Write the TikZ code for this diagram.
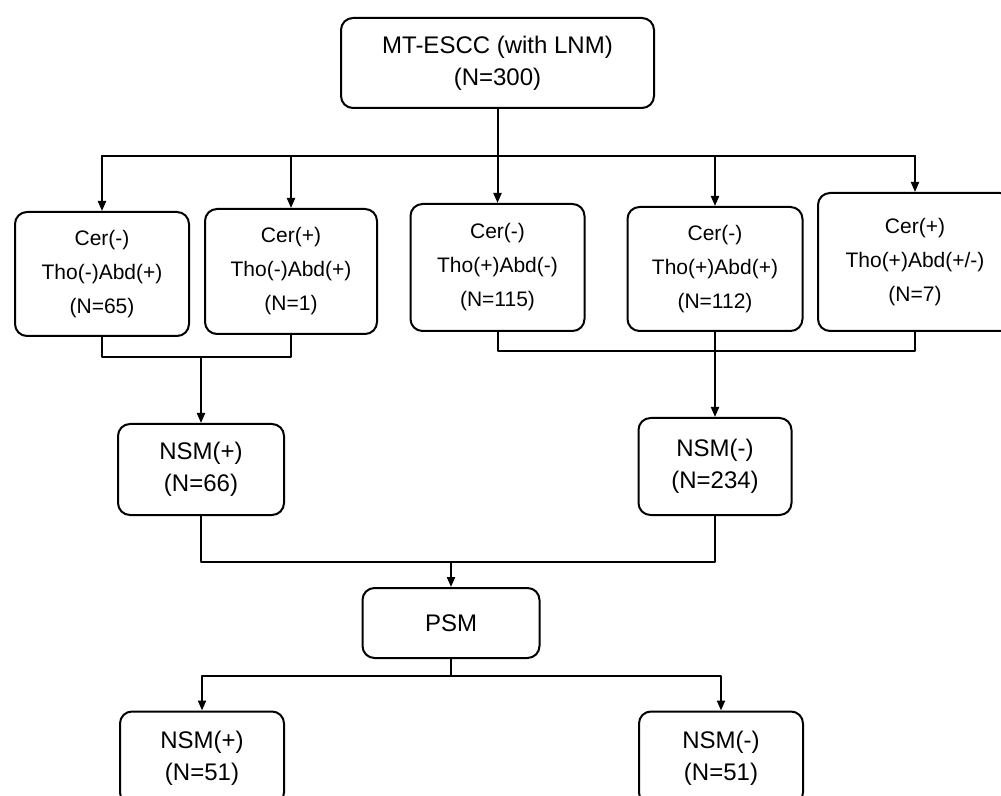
\documentclass[tikz,border=0pt]{standalone}
\usepackage{fontspec}
\setmainfont{Liberation Sans}
\usetikzlibrary{arrows.meta}
\tikzset{
  box/.style={draw,line width=1pt,rounded corners=6pt,align=center,inner sep=2pt},
  bigtext/.style={font=\fontsize{12}{16}\selectfont},
  smalltext/.style={font=\fontsize{10.5}{17}\selectfont},
}
\begin{document}
\begin{tikzpicture}[line cap=round,line join=round,>={Triangle[length=5pt,width=4pt]},x=0.5pt,y=-0.5pt,line width=1pt]
				\clip (0,0) rectangle (1001,796);
				\node[box,bigtext,minimum width=156.5pt,minimum height=45pt] (top) at (497.5,63) {MT-ESCC (with LNM)\\(N=300)};
				\node[box,smalltext,minimum width=87pt,minimum height=62pt] (b1) at (102,274) {Cer(-)\\Tho(-)Abd(+)\\(N=65)};
				\node[box,smalltext,minimum width=86pt,minimum height=62.5pt] (b2) at (291,271.5) {Cer(+)\\Tho(-)Abd(+)\\(N=1)};
				\node[box,smalltext,minimum width=87pt,minimum height=63.5pt] (b3) at (497.5,267.5) {Cer(-)\\Tho(+)Abd(-)\\(N=115)};
				\node[box,smalltext,minimum width=87.5pt,minimum height=62pt] (b4) at (715,269) {Cer(-)\\Tho(+)Abd(+)\\(N=112)};
				\node[box,smalltext,minimum width=97pt,minimum height=69pt] (b5) at (915,262) {Cer(+)\\Tho(+)Abd(+/-)\\(N=7)};
				\node[box,bigtext,minimum width=83pt,minimum height=45.5pt] (nsmp) at (201,469.5) {NSM(+)\\(N=66)};
				\node[box,bigtext,minimum width=76.5pt,minimum height=48.5pt] (nsmm) at (715,466.5) {NSM(-)\\(N=234)};
				\node[box,bigtext,minimum width=88.5pt,minimum height=35pt] (psm) at (451,623) {PSM};
				\node[box,bigtext,minimum width=82pt,minimum height=46.5pt] (outp) at (202,758) {NSM(+)\\(N=51)};
				\node[box,bigtext,minimum width=82pt,minimum height=46.5pt] (outm) at (721,758) {NSM(-)\\(N=51)};
				\coordinate (bus) at (497.5,156);
				\coordinate (m1) at (201,357);
				\coordinate (m2) at (715,351);
				\coordinate (m3) at (451,562);
				\coordinate (m4) at (451,676);
				\draw (top.south) -- (bus);
				\draw (b1.north |- bus) -- (b5.north |- bus);
				\foreach \b in {b1,b2,b3,b4,b5}
					\draw [->] (\b.north |- bus) -- (\b.north);
				\draw (b1.south) |- (m1) -| (b2.south);
				\draw [->] (m1) -- (nsmp.north);
				\draw (b3.south) |- (m2) -| (b5.south);
				\draw [->] (b4.south) -- (nsmm.north);
				\draw (nsmp.south) |- (m3) -| (nsmm.south);
				\draw [->] (m3) -- (psm.north);
				\draw (psm.south) -- (m4);
				\draw [->] (m4) -| (outp.north);
				\draw [->] (m4) -| (outm.north);
			\end{tikzpicture}
\end{document}
